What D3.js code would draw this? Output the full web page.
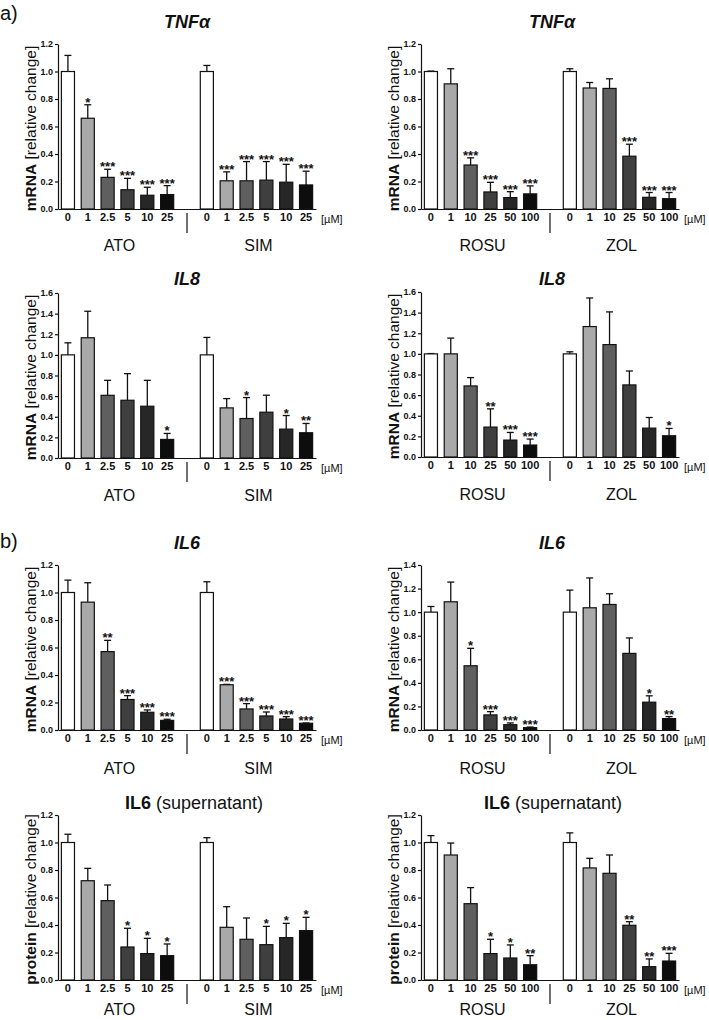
<!DOCTYPE html>
<html>
<head>
<meta charset="utf-8">
<script src="https://cdn.jsdelivr.net/npm/d3@7"></script>
<style>
  body { margin: 0; background: #fff; }
  text { font-family: "Liberation Sans", Arial, sans-serif; fill: #111; }
</style>
</head>
<body>
<script>
// dose labels under each group
const doseStatin = ["0", "1", "2.5", "5", "10", "25"];
const doseRosuZol = ["0", "1", "10", "25", "50", "100"];
const groupsStatin = ["ATO", "SIM"];
const groupsRosuZol = ["ROSU", "ZOL"];
const barColors = ["#ffffff", "#a9a9a9", "#5f5f5f", "#3f3f3f", "#272727", "#0d0d0d"];

// TNFa (mRNA)
const tnfAtoMean = [1.0, 0.66, 0.23, 0.14, 0.10, 0.105];
const tnfAtoSd = [0.117, 0.098, 0.059, 0.083, 0.058, 0.065];
const tnfAtoSig = ["", "*", "***", "***", "***", "***"];
const tnfSimMean = [1.0, 0.205, 0.205, 0.21, 0.195, 0.175];
const tnfSimSd = [0.044, 0.065, 0.14, 0.135, 0.13, 0.10];
const tnfSimSig = ["", "***", "***", "***", "***", "***"];
const tnfRosuMean = [1.0, 0.91, 0.32, 0.124, 0.083, 0.11];
const tnfRosuSd = [0.003, 0.11, 0.052, 0.07, 0.043, 0.058];
const tnfRosuSig = ["", "", "***", "***", "***", "***"];
const tnfZolMean = [1.0, 0.88, 0.877, 0.384, 0.085, 0.075];
const tnfZolSd = [0.02, 0.04, 0.07, 0.087, 0.035, 0.045];
const tnfZolSig = ["", "", "", "***", "***", "***"];

// IL8 (mRNA)
const il8AtoMean = [1.0, 1.166, 0.608, 0.56, 0.502, 0.18];
const il8AtoSd = [0.117, 0.257, 0.145, 0.258, 0.251, 0.058];
const il8AtoSig = ["", "", "", "", "", "*"];
const il8SimMean = [1.0, 0.486, 0.383, 0.444, 0.28, 0.245];
const il8SimSd = [0.169, 0.09, 0.203, 0.165, 0.132, 0.09];
const il8SimSig = ["", "", "*", "", "*", "**"];
const il8RosuMean = [1.0, 1.0, 0.689, 0.29, 0.164, 0.116];
const il8RosuSd = [0.003, 0.153, 0.081, 0.177, 0.074, 0.058];
const il8RosuSig = ["", "", "", "**", "***", "***"];
const il8ZolMean = [1.0, 1.265, 1.09, 0.699, 0.28, 0.206];
const il8ZolSd = [0.02, 0.277, 0.317, 0.135, 0.103, 0.071];
const il8ZolSig = ["", "", "", "", "", "*"];

// IL6 (mRNA)
const il6AtoMean = [1.0, 0.93, 0.57, 0.222, 0.129, 0.07];
const il6AtoSd = [0.09, 0.141, 0.082, 0.028, 0.017, 0.008];
const il6AtoSig = ["", "", "**", "***", "***", "***"];
const il6SimMean = [1.0, 0.329, 0.153, 0.102, 0.08, 0.049];
const il6SimSd = [0.078, 0.003, 0.039, 0.029, 0.017, 0.002];
const il6SimSig = ["", "***", "***", "***", "***", "***"];
const il6RosuMean = [1.0, 1.088, 0.545, 0.128, 0.045, 0.02];
const il6RosuSd = [0.048, 0.167, 0.148, 0.028, 0.015, 0.005];
const il6RosuSig = ["", "", "*", "***", "***", "***"];
const il6ZolMean = [1.0, 1.037, 1.065, 0.65, 0.236, 0.097];
const il6ZolSd = [0.187, 0.253, 0.091, 0.131, 0.054, 0.017];
const il6ZolSig = ["", "", "", "", "*", "**"];

// IL6 protein (supernatant)
const supAtoMean = [1.0, 0.722, 0.577, 0.24, 0.192, 0.177];
const supAtoSd = [0.06, 0.09, 0.114, 0.136, 0.111, 0.085];
const supAtoSig = ["", "", "", "*", "*", "*"];
const supSimMean = [1.0, 0.383, 0.296, 0.257, 0.308, 0.359];
const supSimSd = [0.035, 0.15, 0.155, 0.133, 0.104, 0.097];
const supSimSig = ["", "", "", "*", "*", "*"];
const supRosuMean = [1.0, 0.909, 0.555, 0.192, 0.16, 0.111];
const supRosuSd = [0.05, 0.087, 0.117, 0.104, 0.095, 0.066];
const supRosuSig = ["", "", "", "*", "*", "**"];
const supZolMean = [1.0, 0.815, 0.776, 0.398, 0.097, 0.138];
const supZolSd = [0.07, 0.07, 0.133, 0.026, 0.056, 0.056];
const supZolSig = ["", "", "", "**", "**", "***"];

const W = 709, H = 1020;
const plotW = 258, plotH = 165;

const svg = d3.select("body").append("svg")
    .attr("width", W)
    .attr("height", H);

// panel letters
svg.append("text").attr("x", 0).attr("y", 20).style("font-size", "20px").text("a)");
svg.append("text").attr("x", 0).attr("y", 548).style("font-size", "20px").text("b)");

function drawPanel(p) {
    let g = svg.append("g");
    let x = d3.scaleBand()
        .domain(d3.range(13))
        .range([p.x0, p.x0 + plotW])
        .paddingInner(0.34)
        .paddingOuter(0.17);
    let y = d3.scaleLinear()
        .domain([0, p.yMax])
        .range([p.axisY, p.axisY - plotH]);

    let rows = [];
    for (let gi = 0; gi < 2; gi++) {
        for (let i = 0; i < 6; i++) {
            rows.push({
                slot: gi * 7 + i,
                mean: p.means[gi][i],
                sd: p.sds[gi][i],
                sig: p.sigs[gi][i],
                color: barColors[i]
            });
        }
    }
    let bw = x.bandwidth();

    // error bars (upper only)
    let err = g.selectAll(".err").data(rows).join("g").attr("class", "err");
    err.append("line")
        .attr("x1", d => x(d.slot) + bw / 2)
        .attr("x2", d => x(d.slot) + bw / 2)
        .attr("y1", d => y(d.mean))
        .attr("y2", d => y(d.mean + d.sd))
        .attr("stroke", "#111").attr("stroke-width", 1.3);
    err.append("line")
        .attr("x1", d => x(d.slot) + bw / 2 - 3.5)
        .attr("x2", d => x(d.slot) + bw / 2 + 3.5)
        .attr("y1", d => y(d.mean + d.sd))
        .attr("y2", d => y(d.mean + d.sd))
        .attr("stroke", "#111").attr("stroke-width", 1.3);

    g.selectAll(".bar").data(rows).join("rect")
        .attr("class", "bar")
        .attr("x", d => x(d.slot))
        .attr("width", bw)
        .attr("y", d => y(d.mean))
        .attr("height", d => y(0) - y(d.mean))
        .attr("fill", d => d.color)
        .attr("stroke", "#111")
        .attr("stroke-width", 1.2);

    g.selectAll(".sig").data(rows.filter(d => d.sig)).join("text")
        .attr("class", "sig")
        .attr("x", d => x(d.slot) + bw / 2)
        .attr("y", d => y(d.mean + d.sd) + 2)
        .attr("text-anchor", "middle")
        .style("font-size", "13px")
        .style("font-weight", "bold")
        .text(d => d.sig);

    // y axis
    let yAxis = d3.axisLeft(y)
        .tickValues(d3.range(0, p.yMax + 0.001, 0.2))
        .tickFormat(d3.format(".1f"))
        .tickSize(3)
        .tickSizeOuter(0)
        .tickPadding(2);
    let ya = g.append("g").attr("transform", "translate(" + p.x0 + ",0)").call(yAxis);
    ya.selectAll("text").style("font-size", "9px").style("font-weight", "bold");
    ya.selectAll("path, line").attr("stroke", "#111").attr("stroke-width", 1.2);

    // x axis
    let ticks = d3.range(13).filter(i => i != 6);
    let xAxis = d3.axisBottom(x)
        .tickValues(ticks)
        .tickFormat(i => p.doses[i % 7])
        .tickSize(0)
        .tickSizeOuter(0)
        .tickPadding(4);
    let xa = g.append("g").attr("transform", "translate(0," + p.axisY + ")").call(xAxis);
    xa.selectAll("text").style("font-size", "11px").style("font-weight", "bold");
    xa.select(".domain").attr("stroke", "#111").attr("stroke-width", 1.2);

    g.append("text")
        .attr("x", p.x0 + plotW + 5)
        .attr("y", p.axisY + 14)
        .style("font-size", "11px")
        .text("[\u00b5M]");

    // separator between the two drugs
    let sepX = x(6) + bw / 2;
    g.append("line")
        .attr("x1", sepX).attr("x2", sepX)
        .attr("y1", p.axisY + 4).attr("y2", p.axisY + 24)
        .attr("stroke", "#111").attr("stroke-width", 1.2);

    // drug names
    for (let gi = 0; gi < 2; gi++) {
        let cx = (x(gi * 7) + x(gi * 7 + 5) + bw) / 2;
        g.append("text")
            .attr("x", cx + 2)
            .attr("y", p.axisY + p.groupDy)
            .attr("text-anchor", "middle")
            .style("font-size", "16px")
            .text(p.groups[gi]);
    }

    // title
    let t = g.append("text")
        .attr("x", p.titleX)
        .attr("y", p.titleY)
        .attr("text-anchor", "middle")
        .style("font-size", "18px");
    t.append("tspan")
        .style("font-weight", "bold")
        .style("font-style", p.italic ? "italic" : "normal")
        .text(p.title);
    if (p.subtitle) {
        t.append("tspan").text(" " + p.subtitle);
    }

    // y label
    let lab = g.append("text")
        .attr("transform", "translate(" + (p.x0 - 22) + "," + (p.axisY - plotH / 2 + 2) + ") rotate(-90)")
        .attr("text-anchor", "middle")
        .style("font-size", "15.5px");
    lab.append("tspan").style("font-weight", "bold").text(p.ylab);
    lab.append("tspan").text(" [relative change]");
}

const leftX = 58, rightX = 421;

drawPanel({ x0: leftX, axisY: 209, yMax: 1.2, title: "TNF\u03b1", italic: true, titleX: 187, titleY: 28,
    ylab: "mRNA", doses: doseStatin, groups: groupsStatin, groupDy: 42,
    means: [tnfAtoMean, tnfSimMean], sds: [tnfAtoSd, tnfSimSd], sigs: [tnfAtoSig, tnfSimSig] });
drawPanel({ x0: rightX, axisY: 209, yMax: 1.2, title: "TNF\u03b1", italic: true, titleX: 552, titleY: 28,
    ylab: "mRNA", doses: doseRosuZol, groups: groupsRosuZol, groupDy: 42,
    means: [tnfRosuMean, tnfZolMean], sds: [tnfRosuSd, tnfZolSd], sigs: [tnfRosuSig, tnfZolSig] });
drawPanel({ x0: leftX, axisY: 458, yMax: 1.6, title: "IL8", italic: true, titleX: 187, titleY: 285,
    ylab: "mRNA", doses: doseStatin, groups: groupsStatin, groupDy: 43,
    means: [il8AtoMean, il8SimMean], sds: [il8AtoSd, il8SimSd], sigs: [il8AtoSig, il8SimSig] });
drawPanel({ x0: rightX, axisY: 457, yMax: 1.6, title: "IL8", italic: true, titleX: 552, titleY: 285,
    ylab: "mRNA", doses: doseRosuZol, groups: groupsRosuZol, groupDy: 43,
    means: [il8RosuMean, il8ZolMean], sds: [il8RosuSd, il8ZolSd], sigs: [il8RosuSig, il8ZolSig] });
drawPanel({ x0: leftX, axisY: 730, yMax: 1.2, title: "IL6", italic: true, titleX: 187, titleY: 549,
    ylab: "mRNA", doses: doseStatin, groups: groupsStatin, groupDy: 44,
    means: [il6AtoMean, il6SimMean], sds: [il6AtoSd, il6SimSd], sigs: [il6AtoSig, il6SimSig] });
drawPanel({ x0: rightX, axisY: 730, yMax: 1.4, title: "IL6", italic: true, titleX: 552, titleY: 549,
    ylab: "mRNA", doses: doseRosuZol, groups: groupsRosuZol, groupDy: 44,
    means: [il6RosuMean, il6ZolMean], sds: [il6RosuSd, il6ZolSd], sigs: [il6RosuSig, il6ZolSig] });
drawPanel({ x0: leftX, axisY: 980, yMax: 1.2, title: "IL6", subtitle: "(supernatant)", italic: false, titleX: 194, titleY: 809,
    ylab: "protein", doses: doseStatin, groups: groupsStatin, groupDy: 35,
    means: [supAtoMean, supSimMean], sds: [supAtoSd, supSimSd], sigs: [supAtoSig, supSimSig] });
drawPanel({ x0: rightX, axisY: 980, yMax: 1.2, title: "IL6", subtitle: "(supernatant)", italic: false, titleX: 553, titleY: 809,
    ylab: "protein", doses: doseRosuZol, groups: groupsRosuZol, groupDy: 35,
    means: [supRosuMean, supZolMean], sds: [supRosuSd, supZolSd], sigs: [supRosuSig, supZolSig] });
</script>
</body>
</html>
